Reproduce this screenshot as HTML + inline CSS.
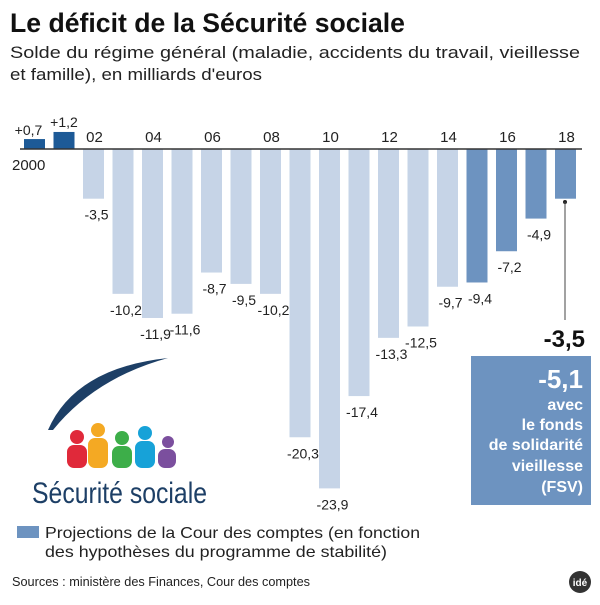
<!DOCTYPE html>
<html><head><meta charset="utf-8"><style>
body{margin:0;background:#fff;}
svg text{font-family:"Liberation Sans",sans-serif;}
</style></head><body>
<svg width="600" height="600" viewBox="0 0 600 600">
<text x="10" y="32" font-size="27" font-weight="bold" fill="#111" textLength="395" lengthAdjust="spacingAndGlyphs">Le déficit de la Sécurité sociale</text>
<text x="10" y="58" font-size="17" fill="#222" textLength="570" lengthAdjust="spacingAndGlyphs">Solde du régime général (maladie, accidents du travail, vieillesse</text>
<text x="10" y="80" font-size="17" fill="#222" textLength="252" lengthAdjust="spacingAndGlyphs">et famille), en milliards d'euros</text>
<g id="bars"></g>
<line x1="20" x2="582" y1="149" y2="149" stroke="#333" stroke-width="1.5"/>
<g id="labels"></g>
<text x="12" y="170" font-size="15" fill="#222">2000</text>
<circle cx="565" cy="202" r="2" fill="#222"/>
<line x1="565" x2="565" y1="202" y2="320" stroke="#444" stroke-width="1"/>
<text x="585" y="347" font-size="24" font-weight="bold" text-anchor="end" fill="#111">-3,5</text>
<rect x="471" y="356" width="120" height="149" fill="#6d93c0"/>
<g fill="#fff" text-anchor="end" font-size="16">
<text x="583" y="388" font-size="26" font-weight="bold">-5,1</text>
<text x="583" y="410" font-weight="bold">avec</text>
<text x="583" y="430" font-weight="bold">le fonds</text>
<text x="583" y="450" font-weight="bold">de solidarité</text>
<text x="583" y="471" font-weight="bold">vieillesse</text>
<text x="583" y="492" font-weight="bold">(FSV)</text>
</g>
<g>
<path d="M48 430 Q75 368 168 358 Q95 378 53 430Z" fill="#1d3f66"/>
<g fill="#e0293a"><circle cx="77" cy="437" r="7"/><rect x="67" y="445" width="20" height="23" rx="7"/></g>
<g fill="#f4a923"><circle cx="98" cy="430" r="7"/><rect x="88" y="438" width="20" height="30" rx="7"/></g>
<g fill="#3dae49"><circle cx="122" cy="438" r="7"/><rect x="112" y="446" width="20" height="22" rx="7"/></g>
<g fill="#17a2d8"><circle cx="145" cy="433" r="7"/><rect x="135" y="441" width="20" height="27" rx="7"/></g>
<g fill="#7b4f9e"><circle cx="168" cy="442" r="6"/><rect x="158" y="449" width="18" height="19" rx="7"/></g>
<text x="32" y="503" font-size="30" fill="#1d3f66" textLength="175" lengthAdjust="spacingAndGlyphs">Sécurité sociale</text>
</g>
<rect x="17" y="526" width="22" height="12" fill="#6d93c0"/>
<text x="45" y="538" font-size="16" fill="#222" textLength="375" lengthAdjust="spacingAndGlyphs">Projections de la Cour des comptes (en fonction</text>
<text x="45" y="557" font-size="16" fill="#222" textLength="342" lengthAdjust="spacingAndGlyphs">des hypothèses du programme de stabilité)</text>
<text x="12" y="586" font-size="13" fill="#222" textLength="298" lengthAdjust="spacingAndGlyphs">Sources : ministère des Finances, Cour des comptes</text>
<circle cx="580" cy="582" r="11" fill="#333"/>
<text x="580" y="586" font-size="10" font-weight="bold" fill="#fff" text-anchor="middle">idé</text>
</svg>
<script>
const years = [2000,2001,2002,2003,2004,2005,2006,2007,2008,2009,2010,2011,2012,2013,2014,2015,2016,2017,2018];
const values = [0.7,1.2,-3.5,-10.2,-11.9,-11.6,-8.7,-9.5,-10.2,-20.3,-23.9,-17.4,-13.3,-12.5,-9.7,-9.4,-7.2,-4.9,-3.5];
const valueLabels = ["+0,7","+1,2","-3,5","-10,2","-11,9","-11,6","-8,7","-9,5","-10,2","-20,3","-23,9","-17,4","-13,3","-12,5","-9,7","-9,4","-7,2","-4,9",""];
const tickYears = [2002,2004,2006,2008,2010,2012,2014,2016,2018];
const projectionStart = 2015;
const NS="http://www.w3.org/2000/svg";
const y0=149, k=14.2, x0=24, pitch=29.5, bw=21;
function xScale(yr){return x0+(yr-2000)*pitch;}
function yScale(v){return y0-v*k;}
const gb=document.getElementById('bars'), gl=document.getElementById('labels');
years.forEach((yr,i)=>{
  const v=values[i];
  const r=document.createElementNS(NS,'rect');
  
  
  r.setAttribute('x',xScale(yr));
  r.setAttribute('width',bw);
  r.setAttribute('y',Math.min(yScale(v),y0));
  r.setAttribute('height',Math.abs(yScale(v)-y0));
  r.setAttribute('fill',v>0?'#1d5a97':(yr>=projectionStart?'#6d93c0':'#c6d4e7'));
  gb.appendChild(r);
  if(valueLabels[i]){
    const t=document.createElementNS(NS,'text');
    
    
    const cx=xScale(yr)+bw/2;
    if(v>0){t.setAttribute('x',cx-(i==0?6:0));t.setAttribute('y',yScale(v)-(i==0?4:5));}
    else{t.setAttribute('x',cx+3);t.setAttribute('y',yScale(v)+21);}
    t.setAttribute('text-anchor','middle');
    t.setAttribute('font-size','14');
    t.setAttribute('fill','#222');
    t.textContent=valueLabels[i];
    gl.appendChild(t);
  }
});
tickYears.forEach(yr=>{
  const t=document.createElementNS(NS,'text');
  
  
  t.setAttribute('x',xScale(yr)+bw/2+1);
  t.setAttribute('y',142);
  t.setAttribute('text-anchor','middle');
  t.setAttribute('font-size','15');
  t.setAttribute('fill','#222');
  t.textContent=String(yr).slice(2);
  gl.appendChild(t);
});
</script>
</body></html>
